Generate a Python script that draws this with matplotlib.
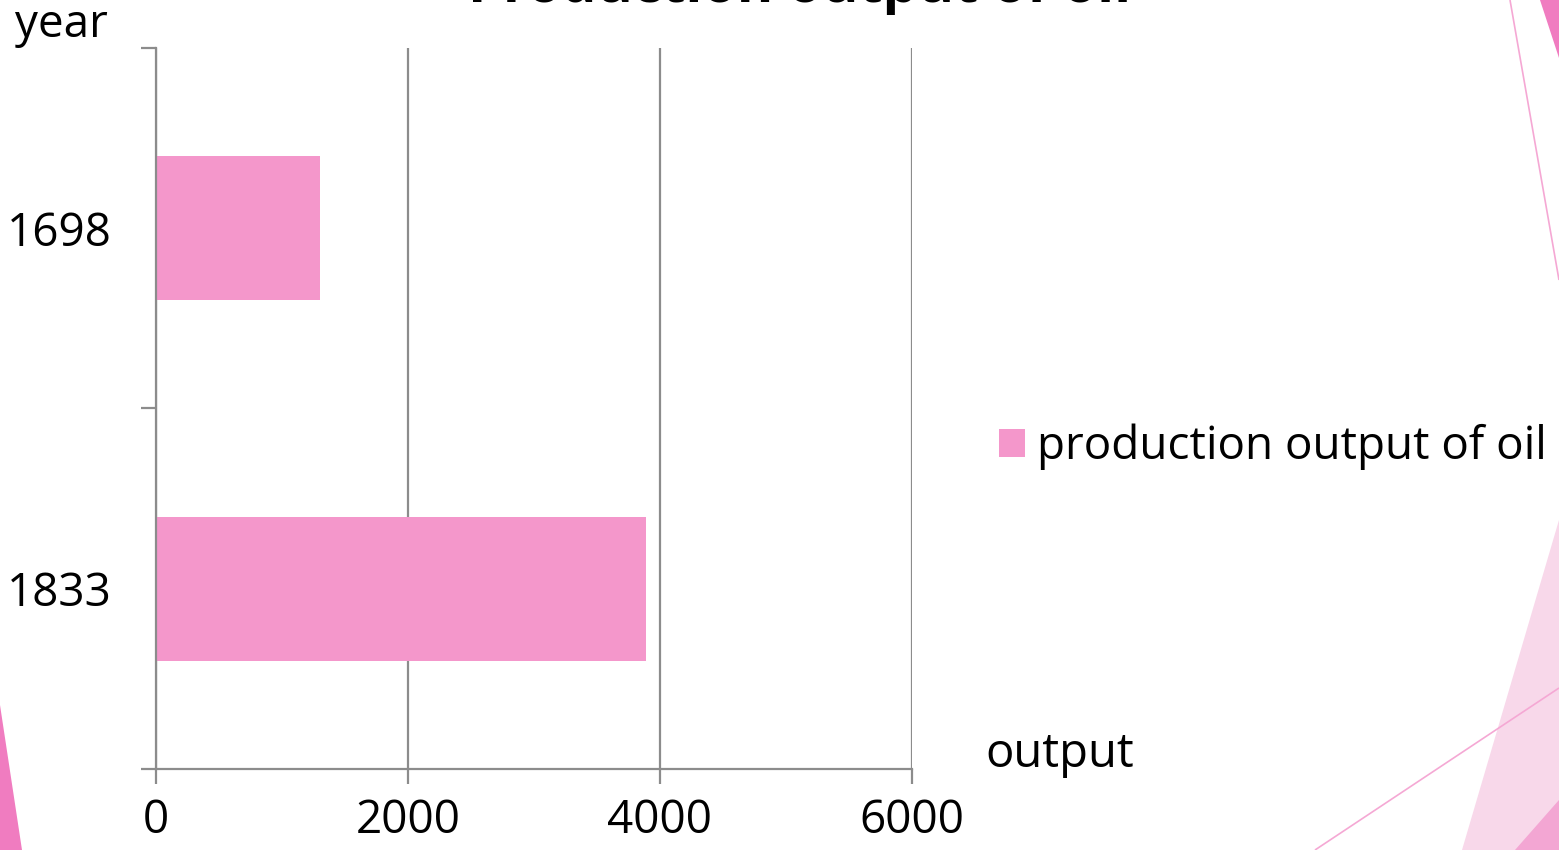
import matplotlib.pyplot as plt
from matplotlib.patches import Polygon

# production output of oil per year
years = ['1698', '1833']
output = [1300, 3885]
x_ticks = [0, 2000, 4000, 6000]

W, H = 1559, 850
pink = '#F497CB'
grey = '#8C8C8C'
plt.rcParams['font.family'] = ['Open Sans', 'DejaVu Sans']

fig = plt.figure(figsize=(W / 100, H / 100), dpi=100)


def px(points):
    # pixel coords (origin top-left) -> figure fraction
    return [(x / W, 1 - y / H) for x, y in points]


# slide decoration shapes
fig.add_artist(Polygon(px([(0, 705), (22, 850), (0, 850)]), transform=fig.transFigure,
                       color='#F07CC0', lw=0, zorder=0))
fig.add_artist(Polygon(px([(1540, 0), (1559, 0), (1559, 58)]), transform=fig.transFigure,
                       color='#F07CC0', lw=0, zorder=0))
fig.add_artist(Polygon(px([(1510, 0), (1559, 280)]), closed=False, transform=fig.transFigure,
                       fill=False, edgecolor='#F5A8D4', lw=1.2, zorder=0))
fig.add_artist(Polygon(px([(1462, 850), (1559, 520), (1559, 850)]), transform=fig.transFigure,
                       color='#F8D8EA', lw=0, zorder=0))
fig.add_artist(Polygon(px([(1515, 850), (1559, 800), (1559, 850)]), transform=fig.transFigure,
                       color='#F3A6D3', lw=0, zorder=0))
fig.add_artist(Polygon(px([(1315, 850), (1559, 688)]), closed=False, transform=fig.transFigure,
                       fill=False, edgecolor='#F5A8D4', lw=1.2, zorder=0))

ax = fig.add_axes([156 / W, 1 - 769 / H, (912 - 156) / W, (769 - 48) / H])
ax.patch.set_alpha(0)

ax.barh(range(len(years)), output, height=0.4, color=pink, zorder=2,
        label='production output of oil')

ax.set_xlim(0, 6000)
ax.set_ylim(len(years) - 0.5, -0.5)
ax.set_xticks(x_ticks)
ax.set_xticklabels([str(v) for v in x_ticks])
ax.set_yticks(range(len(years)))
ax.set_yticklabels(years)
ax.set_yticks([i - 0.5 for i in range(len(years) + 1)], minor=True)

ax.grid(axis='x', color=grey, lw=1.6, zorder=1)
for side in ['top', 'right']:
    ax.spines[side].set_visible(False)
for side in ['left', 'bottom']:
    ax.spines[side].set_color(grey)
    ax.spines[side].set_linewidth(1.6)

ax.tick_params(axis='x', length=11, width=1.6, color=grey, labelsize=33, pad=10)
ax.tick_params(axis='y', which='major', length=0, labelsize=33, pad=32)
ax.tick_params(axis='y', which='minor', length=11, width=1.6, color=grey)

ax.legend(loc='center left', bbox_to_anchor=(999 / W, 1 - 447 / H),
          bbox_transform=fig.transFigure, frameon=False, fontsize=33,
          handlelength=0.57, handleheight=0.55, handletextpad=0.25,
          borderpad=0, borderaxespad=0)

fig.text(15 / W, 1 - 25 / H, 'year', fontsize=33, va='center', ha='left')
fig.text(985 / W, 1 - 754 / H, 'output', fontsize=34, va='center', ha='left')
# title sits mostly above the top edge
fig.text(800 / W, 1 - 2 / H, 'Production output of oil', fontsize=40,
         fontweight='bold', va='baseline', ha='center')

fig.savefig('out.png', dpi=100)
